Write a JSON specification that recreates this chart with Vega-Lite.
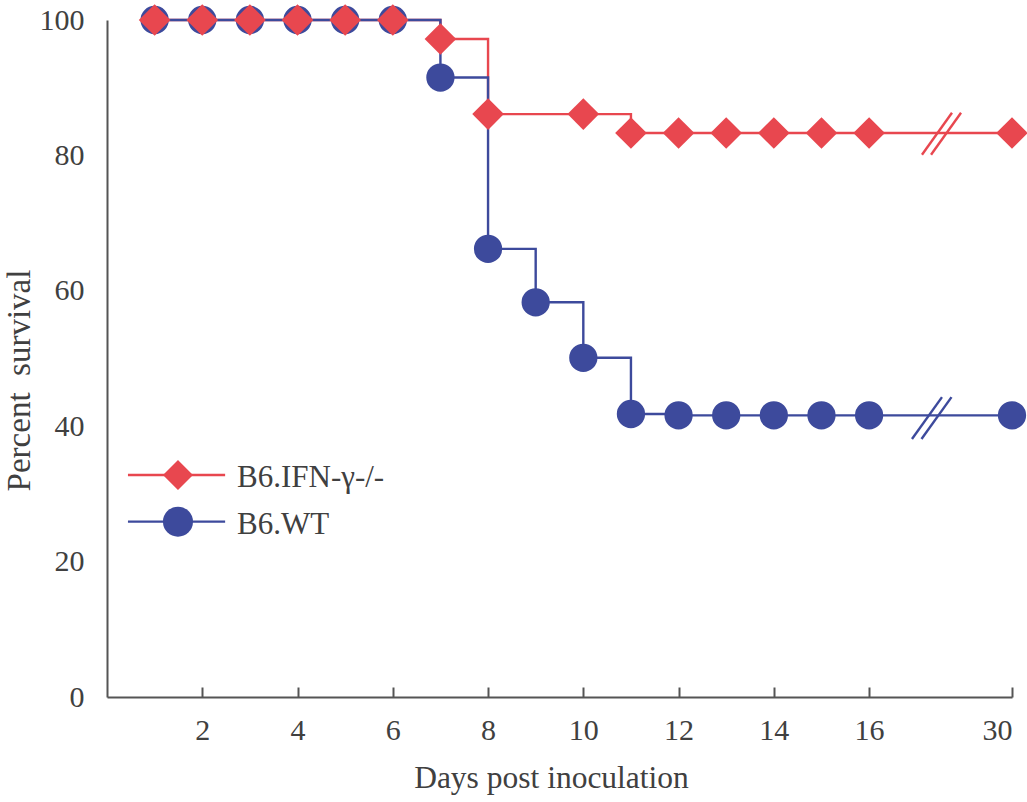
{
  "$schema": "https://vega.github.io/schema/vega-lite/v6.json",
  "autosize": "none",
  "width": 905,
  "height": 677,
  "padding": {"left": 107, "top": 20, "right": 15, "bottom": 105},
  "background": "white",
  "config": {
    "view": {"stroke": null},
    "font": "Liberation Serif",
    "axis": {"grid": false, "labelFont": "Liberation Serif", "titleFont": "Liberation Serif", "labelColor": "#404040", "titleColor": "#404040", "titleFontWeight": "normal", "domainColor": "#555555", "tickColor": "#555555", "domainWidth": 2, "tickWidth": 2}
  },
  "datasets": {
    "surv": [
      {"series": "IFN", "day": 1, "pct": 100},
      {"series": "IFN", "day": 2, "pct": 100},
      {"series": "IFN", "day": 3, "pct": 100},
      {"series": "IFN", "day": 4, "pct": 100},
      {"series": "IFN", "day": 5, "pct": 100},
      {"series": "IFN", "day": 6, "pct": 100},
      {"series": "IFN", "day": 7, "pct": 97.2},
      {"series": "IFN", "day": 8, "pct": 86.1},
      {"series": "IFN", "day": 10, "pct": 86.1},
      {"series": "IFN", "day": 11, "pct": 83.3},
      {"series": "IFN", "day": 12, "pct": 83.3},
      {"series": "IFN", "day": 13, "pct": 83.3},
      {"series": "IFN", "day": 14, "pct": 83.3},
      {"series": "IFN", "day": 15, "pct": 83.3},
      {"series": "IFN", "day": 16, "pct": 83.3},
      {"series": "IFN", "day": 19, "pct": 83.3},
      {"series": "WT", "day": 1, "pct": 100},
      {"series": "WT", "day": 2, "pct": 100},
      {"series": "WT", "day": 3, "pct": 100},
      {"series": "WT", "day": 4, "pct": 100},
      {"series": "WT", "day": 5, "pct": 100},
      {"series": "WT", "day": 6, "pct": 100},
      {"series": "WT", "day": 7, "pct": 91.5},
      {"series": "WT", "day": 8, "pct": 66.2},
      {"series": "WT", "day": 9, "pct": 58.3},
      {"series": "WT", "day": 10, "pct": 50.1},
      {"series": "WT", "day": 11, "pct": 41.8},
      {"series": "WT", "day": 12, "pct": 41.6},
      {"series": "WT", "day": 13, "pct": 41.6},
      {"series": "WT", "day": 14, "pct": 41.6},
      {"series": "WT", "day": 15, "pct": 41.6},
      {"series": "WT", "day": 16, "pct": 41.6},
      {"series": "WT", "day": 19, "pct": 41.6}
    ],
    "breaks": [
      {"series": "IFN", "x": 17.11, "y": 80.1, "x2": 17.74, "y2": 86.3},
      {"series": "IFN", "x": 17.3, "y": 80.1, "x2": 17.93, "y2": 86.3},
      {"series": "WT", "x": 16.9, "y": 38.1, "x2": 17.53, "y2": 44.3},
      {"series": "WT", "x": 17.1, "y": 38.1, "x2": 17.73, "y2": 44.3}
    ],
    "legend": [
      {"series": "IFN", "label": "B6.IFN-γ-/-", "x": 0.44, "x2": 2.48, "xm": 1.49, "xt": 2.73, "y": 32.8},
      {"series": "WT", "label": "B6.WT", "x": 0.44, "x2": 2.48, "xm": 1.49, "xt": 2.73, "y": 25.9}
    ]
  },
  "layer": [
    {
      "data": {"name": "surv"},
      "transform": [{"filter": "datum.series == 'IFN'"}],
      "mark": {"type": "line", "interpolate": "step-after", "color": "#e8474f", "strokeWidth": 2.4},
      "encoding": {
        "x": {"field": "day", "type": "quantitative", "scale": {"domain": [0, 19], "nice": false},
          "axis": {"values": [2, 4, 6, 8, 10, 12, 14, 16, 19], "labelExpr": "datum.value == 19 ? '30' : datum.label", "tickSize": -10, "labelPadding": 28, "labelFontSize": 30, "title": "Days post inoculation", "titleFontSize": 31.5, "titlePadding": 17, "titleX": 444}},
        "y": {"field": "pct", "type": "quantitative", "scale": {"domain": [0, 100], "nice": false},
          "axis": {"values": [0, 20, 40, 60, 80, 100], "ticks": false, "labelPadding": 23, "labelFontSize": 30, "title": "Percent\u00a0 survival", "titleFontSize": 33, "titlePadding": 3, "titleY": 360}}
      }
    },
    {
      "data": {"name": "surv"},
      "transform": [{"filter": "datum.series == 'WT'"}],
      "mark": {"type": "line", "interpolate": "step-after", "color": "#3d4a9c", "strokeWidth": 2.4},
      "encoding": {
        "x": {"field": "day", "type": "quantitative"},
        "y": {"field": "pct", "type": "quantitative"}
      }
    },
    {
      "data": {"name": "surv"},
      "transform": [{"filter": "datum.series == 'WT'"}],
      "mark": {"type": "point", "shape": "circle", "filled": true, "color": "#3d4a9c", "size": 800, "opacity": 1},
      "encoding": {
        "x": {"field": "day", "type": "quantitative"},
        "y": {"field": "pct", "type": "quantitative"}
      }
    },
    {
      "data": {"name": "surv"},
      "transform": [{"filter": "datum.series == 'IFN'"}],
      "mark": {"type": "point", "shape": "diamond", "filled": true, "color": "#e8474f", "size": 1000, "opacity": 1},
      "encoding": {
        "x": {"field": "day", "type": "quantitative"},
        "y": {"field": "pct", "type": "quantitative"}
      }
    },
    {
      "data": {"name": "breaks"},
      "mark": {"type": "rule", "strokeWidth": 2.4},
      "encoding": {
        "x": {"field": "x", "type": "quantitative"},
        "x2": {"field": "x2"},
        "y": {"field": "y", "type": "quantitative"},
        "y2": {"field": "y2"},
        "color": {"field": "series", "type": "nominal", "scale": {"domain": ["IFN", "WT"], "range": ["#e8474f", "#3d4a9c"]}, "legend": null}
      }
    },
    {
      "data": {"name": "legend"},
      "mark": {"type": "rule", "strokeWidth": 2.4},
      "encoding": {
        "x": {"field": "x", "type": "quantitative"},
        "x2": {"field": "x2"},
        "y": {"field": "y", "type": "quantitative"},
        "color": {"field": "series", "type": "nominal", "legend": null}
      }
    },
    {
      "data": {"name": "legend"},
      "mark": {"type": "point", "filled": true, "opacity": 1, "size": 900},
      "encoding": {
        "x": {"field": "xm", "type": "quantitative"},
        "y": {"field": "y", "type": "quantitative"},
        "color": {"field": "series", "type": "nominal", "legend": null},
        "shape": {"field": "series", "type": "nominal", "scale": {"domain": ["IFN", "WT"], "range": ["diamond", "circle"]}, "legend": null}
      }
    },
    {
      "data": {"name": "legend"},
      "mark": {"type": "text", "align": "left", "baseline": "middle", "fontSize": 31, "font": "Liberation Serif", "color": "#404040", "dy": 3},
      "encoding": {
        "x": {"field": "xt", "type": "quantitative"},
        "y": {"field": "y", "type": "quantitative"},
        "text": {"field": "label"}
      }
    }
  ]
}
